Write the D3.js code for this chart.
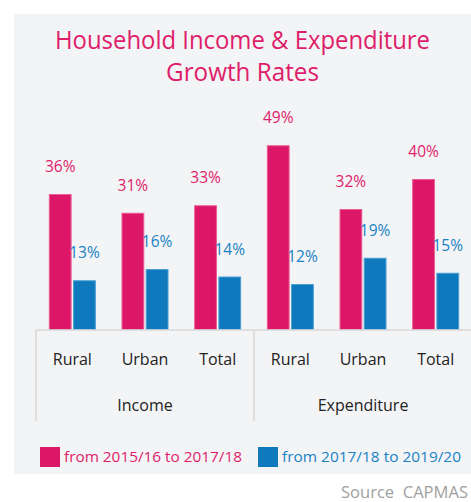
<!DOCTYPE html>
<html>
<head>
<meta charset="utf-8">
<script src="https://cdn.jsdelivr.net/npm/d3@7"></script>
<style>
  html, body { margin: 0; padding: 0; background: #ffffff; }
  svg { display: block; font-family: "Open Sans", "Noto Sans", sans-serif; }
</style>
</head>
<body>
<svg id="chart" width="471" height="502"></svg>
<script>
const titleLines = ["Household Income & Expenditure", "Growth Rates"];
const categories = ["Rural", "Urban", "Total", "Rural", "Urban", "Total"];
const groups = ["Income", "Expenditure"];
const seriesNames = ["from 2015/16 to 2017/18", "from 2017/18 to 2019/20"];
const series1 = [36, 31, 33, 49, 32, 40];
const series2 = [13, 16, 14, 12, 19, 15];
const sourceText = "Source  CAPMAS";

const pink = "#dd1768", pinkStroke = "#ea5c93";
const blue = "#0e7abd", blueStroke = "#4a9fd3";
const pinkText = "#de1d6a", blueText = "#1a82c4";

const svg = d3.select("#chart");

// panel background
svg.append("rect").attr("x", 14).attr("y", 14).attr("width", 457).attr("height", 460).attr("fill", "#f3f4f6");

function fitText(sel, targetWidth) {
  const w = sel.node().getComputedTextLength();
  if (w > 0) sel.attr("textLength", targetWidth).attr("lengthAdjust", "spacingAndGlyphs");
}

// title
const t1 = svg.append("text").attr("x", 242.5).attr("y", 49).attr("text-anchor", "middle")
  .attr("font-size", 25).attr("fill", pinkText).text(titleLines[0]);
fitText(t1, 375);
const t2 = svg.append("text").attr("x", 242.5).attr("y", 81).attr("text-anchor", "middle")
  .attr("font-size", 25).attr("fill", pinkText).text(titleLines[1]);
fitText(t2, 153);

const x = d3.scaleBand().domain(d3.range(categories.length)).range([36, 472]).paddingInner(0).paddingOuter(0);
const x1 = d3.scaleBand().domain([0, 1]).range([-23.5, 23.5]).paddingInner(0.06);
const y = d3.scaleLinear().domain([0, 50]).range([329, 141.5]);

const data = categories.map((c, i) => ({ i, c, v: [series1[i], series2[i]] }));
const fills = [pink, blue], strokes = [pinkStroke, blueStroke], tcols = [pinkText, blueText];

const g = svg.append("g");
data.forEach(d => {
  const cx = x(d.i) + x.bandwidth() / 2;
  d.v.forEach((v, s) => {
    g.append("rect")
      .attr("x", cx + x1(s) + 0.5)
      .attr("y", y(v) + 0.5)
      .attr("width", x1.bandwidth() - 1)
      .attr("height", y(0) - y(v))
      .attr("fill", fills[s]).attr("stroke", strokes[s]).attr("stroke-width", 1);
    g.append("text")
      .attr("x", cx + x1(s) + x1.bandwidth() / 2)
      .attr("y", y(v) - 22)
      .attr("text-anchor", "middle")
      .attr("font-size", 15.5)
      .attr("fill", tcols[s])
      .text(v + "%");
  });
});

// axis lines
const axisCol = "#d9d9d9";
svg.append("line").attr("x1", 36).attr("x2", 471).attr("y1", 330).attr("y2", 330).attr("stroke", axisCol).attr("stroke-width", 1.5);
[0, 3].forEach(k => {
  svg.append("line").attr("x1", x(k)).attr("x2", x(k)).attr("y1", 330).attr("y2", 421)
    .attr("stroke", axisCol).attr("stroke-width", 1.5);
});

// category labels
data.forEach(d => {
  svg.append("text").attr("x", x(d.i) + x.bandwidth() / 2).attr("y", 365)
    .attr("text-anchor", "middle").attr("font-size", 16).attr("fill", "#222").text(d.c);
});
groups.forEach((gname, k) => {
  const cx = (x(k * 3) + x(k * 3 + 2) + x.bandwidth()) / 2;
  svg.append("text").attr("x", cx).attr("y", 411).attr("text-anchor", "middle")
    .attr("font-size", 16).attr("fill", "#222").text(gname);
});

// legend
const legendX = [40, 258], legendW = [178, 179];
seriesNames.forEach((n, s) => {
  svg.append("rect").attr("x", legendX[s]).attr("y", 447).attr("width", 20).attr("height", 20).attr("fill", fills[s]);
  const tt = svg.append("text").attr("x", legendX[s] + 24).attr("y", 462)
    .attr("font-size", 15).attr("fill", tcols[s]).text(n);
  fitText(tt, legendW[s]);
});

// source
const st = svg.append("text").attr("x", 341).attr("y", 498)
  .attr("font-size", 15.5).attr("fill", "#a0a0a0").attr("xml:space", "preserve").text(sourceText);
fitText(st, 127);
</script>
</body>
</html>
